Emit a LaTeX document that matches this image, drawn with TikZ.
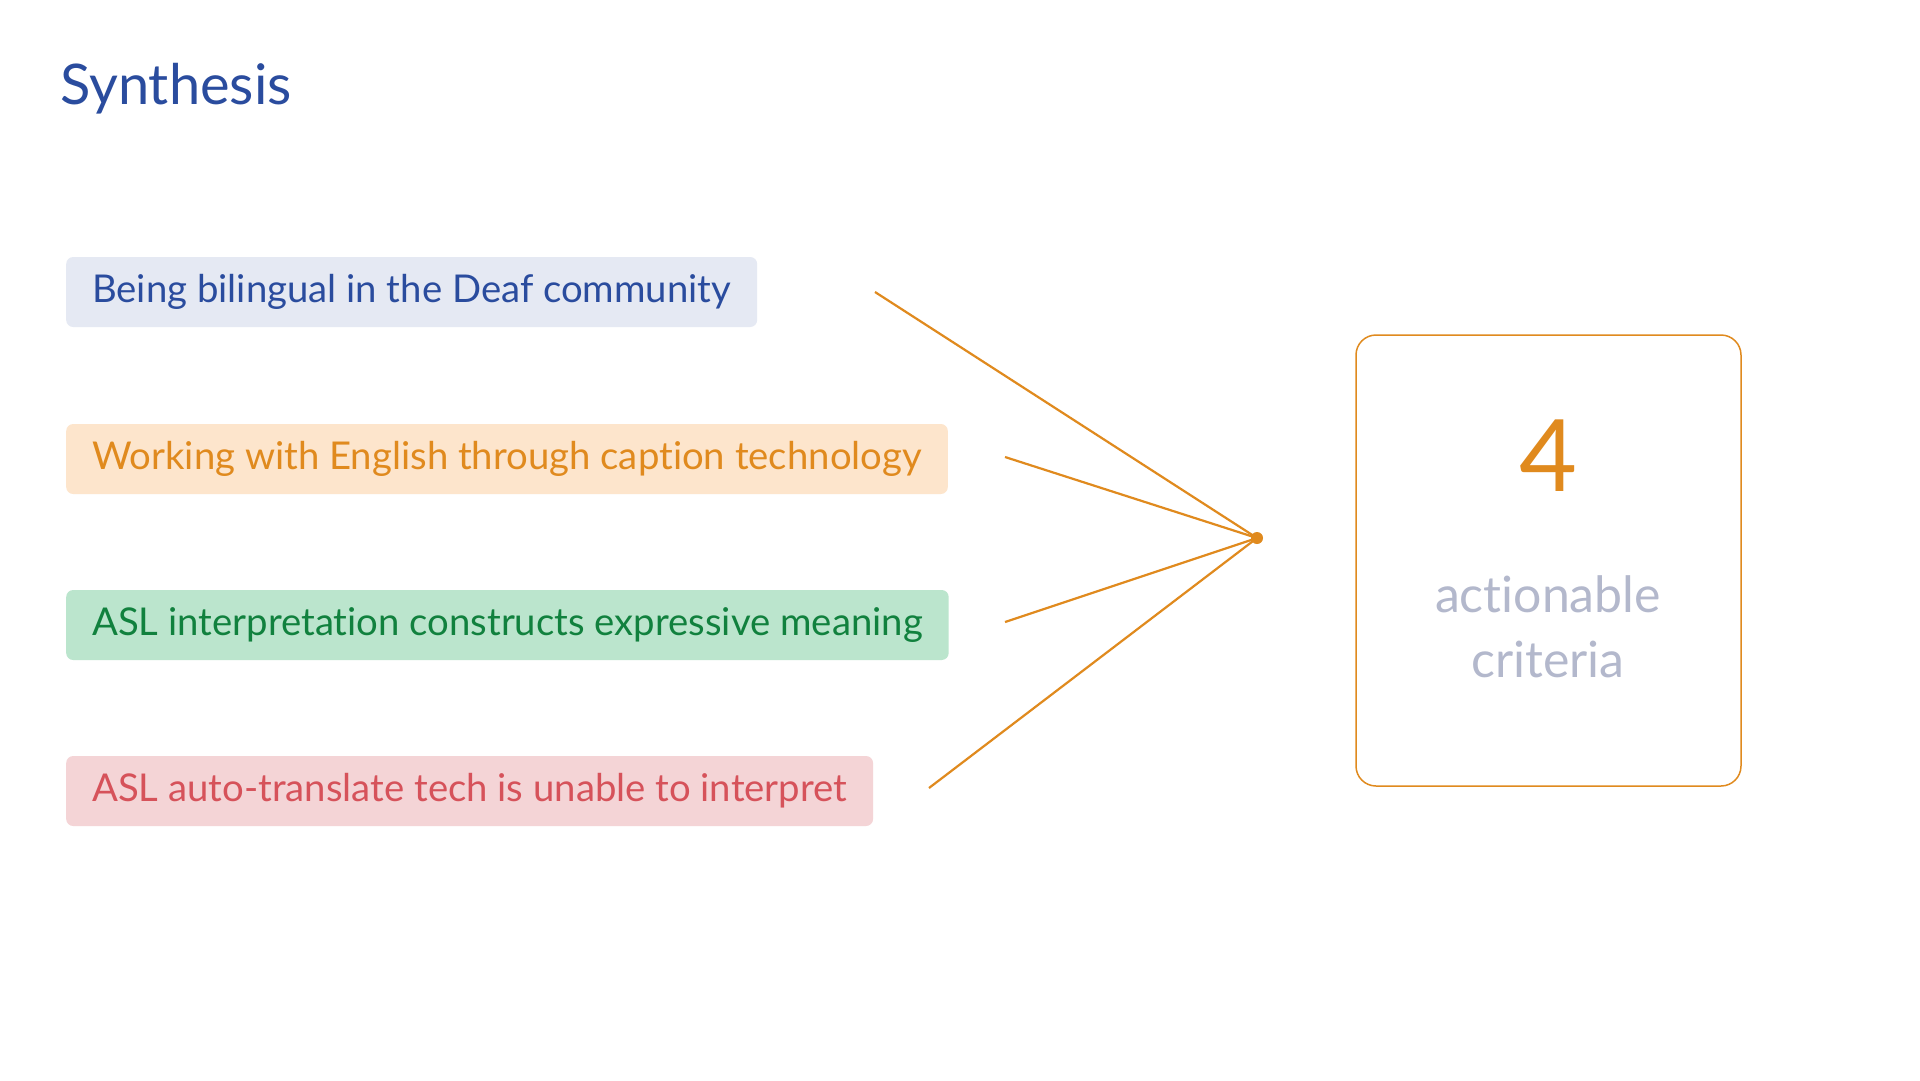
\documentclass[tikz,border=0pt]{standalone}
\usepackage{fontspec}
\setmainfont{Lato}[RawFeature={-liga;-clig;-dlig;-calt}]
\definecolor{tblue}{HTML}{2A4C9E}
\definecolor{fblue}{HTML}{E5E9F3}
\definecolor{torange}{HTML}{E08A1E}
\definecolor{forange}{HTML}{FDE5CC}
\definecolor{tgreen}{HTML}{11813E}
\definecolor{fgreen}{HTML}{BBE5CD}
\definecolor{tred}{HTML}{D6525A}
\definecolor{fred}{HTML}{F4D4D6}
\definecolor{tgrey}{HTML}{B3B8CC}
\tikzset{
  itembox/.style={anchor=west, inner xsep=26pt, inner ysep=0pt, minimum height=70pt,
    rounded corners=7pt, font=\fontsize{38.3}{42}\selectfont},
  link/.style={draw=torange, line width=2.2pt},
}
\begin{document}
\begin{tikzpicture}[x=1pt,y=-1pt]
\useasboundingbox[fill=white] (0,0) rectangle (1920,1080);
\node[anchor=base west, text=tblue, inner sep=0pt, font=\fontsize{56}{60}\selectfont] (title) at (60,104) {Synthesis};
\node[itembox, fill=fblue, text=tblue] (b1) at (66,292) {Being bilingual in the Deaf community};
\node[itembox, fill=forange, text=torange] (b2) at (66,459) {Working with English through caption technology};
\node[itembox, fill=fgreen, text=tgreen] (b3) at (66,625) {ASL interpretat\kern0pt ion constructs expressive meaning};
\node[itembox, fill=fred, text=tred] (b4) at (66,791) {ASL auto-translate tech is unable to interpret};
\coordinate (s1) at (875,292);
\coordinate (s2) at (1005,457);
\coordinate (s3) at (1005,622);
\coordinate (s4) at (929,788);
\node[circle, fill=torange, inner sep=0pt, minimum size=12pt] (hub) at (1257,538) {};
\draw[link] (s1) -- (hub.center);
\draw[link] (s2) -- (hub.center);
\draw[link] (s3) -- (hub.center);
\draw[link] (s4) -- (hub.center);
\node[draw=torange, line width=1.5pt, rounded corners=20pt, minimum width=385pt, minimum height=451pt] (res) at (1548.5,560.5) {};
\node[text=torange, font=\fontsize{100}{100}\selectfont, inner sep=0pt, anchor=base] (num) at (1548,491) {4};
\node[text=tgrey, font=\fontsize{50}{65}\selectfont, align=center, inner sep=0pt, anchor=base] (lab) at (1548,677) {act\kern0pt ionable\\criteria};
\end{tikzpicture}
\end{document}
